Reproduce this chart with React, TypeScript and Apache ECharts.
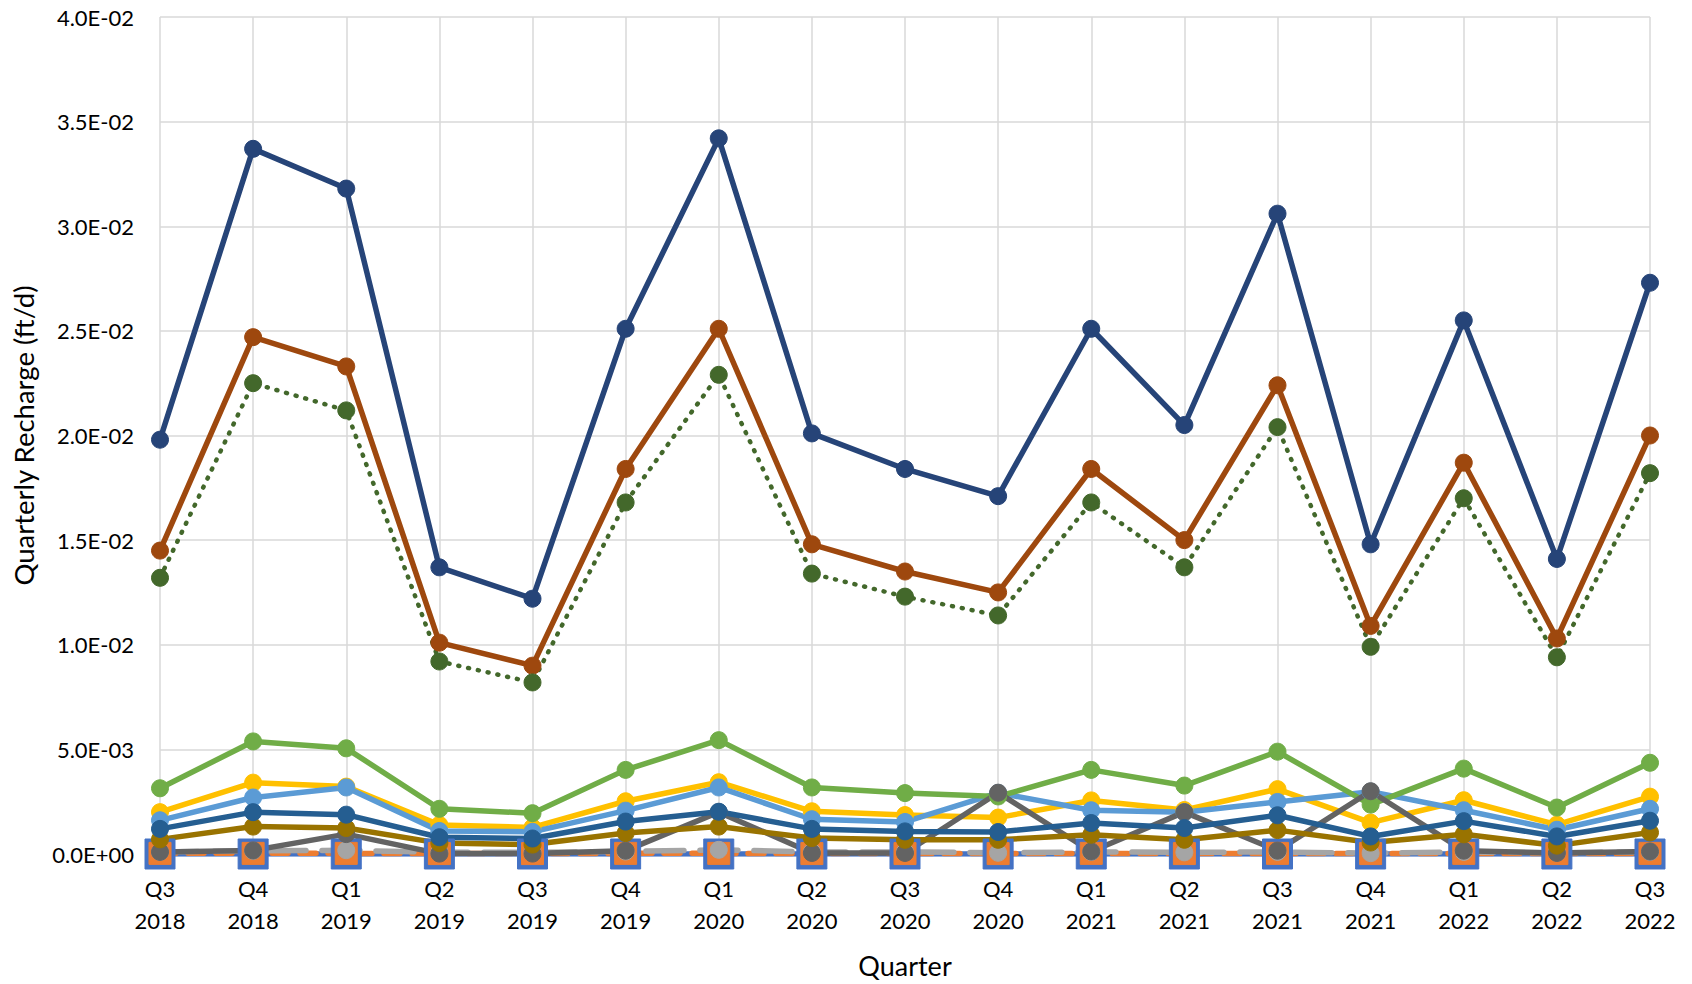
import React, { useEffect, useRef } from "react";
import * as echarts from "echarts";

const categories = [
  "Q3\n2018", "Q4\n2018", "Q1\n2019", "Q2\n2019", "Q3\n2019", "Q4\n2019",
  "Q1\n2020", "Q2\n2020", "Q3\n2020", "Q4\n2020", "Q1\n2021", "Q2\n2021",
  "Q3\n2021", "Q4\n2021", "Q1\n2022", "Q2\n2022", "Q3\n2022",
];

const blueSquares = [0, 0, 0, 0, 0, 0, 0, 0, 0, 0, 0, 0, 0, 0, 0, 0, 0];
const orangeSquares = [0.00003, 0.00003, 0.00003, 0.00002, 0.00002, 0.00003, 0.00003, 0.00002, 0.00002, 0.00002, 0.00003, 0.00002, 0.00003, 0.00002, 0.00003, 0.00002, 0.00003];
const lightGray = [0.0001, 0.00015, 0.00018, 0.00008, 0.00008, 0.00012, 0.0002, 0.0001, 0.0001, 0.00006, 0.0001, 0.00008, 0.0001, 0.00004, 0.0001, 0.00006, 0.0001];
const gold = [0.002, 0.00341, 0.00322, 0.00139, 0.00127, 0.00252, 0.00343, 0.00204, 0.00186, 0.00174, 0.00256, 0.0021, 0.0031, 0.0015, 0.00257, 0.0014, 0.00274];
const lightBlue = [0.00161, 0.0027, 0.00318, 0.0011, 0.00106, 0.00207, 0.00318, 0.00166, 0.00153, 0.00292, 0.00209, 0.002, 0.00249, 0.00298, 0.00209, 0.00116, 0.00216];
const green = [0.00314, 0.00538, 0.00505, 0.00216, 0.00195, 0.00402, 0.00544, 0.00318, 0.00291, 0.00275, 0.00402, 0.00327, 0.00489, 0.00236, 0.00408, 0.00222, 0.00436];
const navy = [0.0198, 0.0337, 0.0318, 0.0137, 0.0122, 0.0251, 0.0342, 0.0201, 0.0184, 0.0171, 0.0251, 0.0205, 0.0306, 0.0148, 0.0255, 0.0141, 0.0273];
const darkOrange = [0.0145, 0.0247, 0.0233, 0.0101, 0.009, 0.0184, 0.0251, 0.0148, 0.0135, 0.0125, 0.0184, 0.015, 0.0224, 0.0109, 0.0187, 0.0103, 0.02];
const darkGray = [0.0001, 0.00017, 0.00095, 0.00002, 0.00002, 0.00016, 0.002, 0.00005, 0.00005, 0.00293, 0.00012, 0.002, 0.00016, 0.003, 0.00016, 0.00005, 0.00012];
const darkGold = [0.0007, 0.00131, 0.00124, 0.00052, 0.00045, 0.001, 0.00131, 0.00076, 0.00068, 0.00068, 0.00092, 0.00068, 0.00114, 0.00055, 0.00094, 0.0004, 0.00103];
const darkBlue = [0.0012, 0.002, 0.00188, 0.0008, 0.00074, 0.00155, 0.00202, 0.0012, 0.00108, 0.00105, 0.00148, 0.00124, 0.00185, 0.00084, 0.00157, 0.00084, 0.00159];
const darkGreenDotted = [0.0132, 0.0225, 0.0212, 0.0092, 0.0082, 0.0168, 0.0229, 0.0134, 0.0123, 0.0114, 0.0168, 0.0137, 0.0204, 0.0099, 0.017, 0.0094, 0.0182];

const FONT = "Lato";

function fmtExp(v: number): string {
  if (v === 0) return "0.0E+00";
  const s = v.toExponential(1);
  const [m, e] = s.split("e");
  const n = parseInt(e, 10);
  const sign = n < 0 ? "-" : "+";
  const abs = Math.abs(n);
  return m + "E" + sign + (abs < 10 ? "0" + abs : String(abs));
}

export default function App() {
  const ref = useRef<HTMLDivElement>(null);
  useEffect(() => {
    if (!ref.current) return;
    const chart = echarts.init(ref.current, undefined, { renderer: "svg" });
    const lw = 5.5;
    const circ = (name: string, color: string, data: number[], extra: any = {}) => ({
      name,
      type: "line",
      data,
      symbol: "circle",
      symbolSize: 17,
      showSymbol: true,
      itemStyle: { color, borderColor: color },
      lineStyle: { color, width: lw, ...(extra.lineStyle || {}) },
      z: 2,
    });
    chart.setOption({
      animation: false,
      backgroundColor: "#ffffff",
      grid: { left: 160, right: 42, top: 17, bottom: 119, containLabel: false },
      xAxis: {
        type: "category",
        data: categories,
        boundaryGap: false,
        name: "Quarter",
        nameLocation: "middle",
        nameGap: 98,
        nameTextStyle: { fontFamily: FONT, fontSize: 27, color: "#000" },
        axisLine: { show: false },
        axisTick: { show: false },
        axisLabel: {
          fontFamily: FONT,
          fontSize: 22,
          color: "#000",
          lineHeight: 32,
          margin: 18,
          interval: 0,
        },
        splitLine: { show: true, lineStyle: { color: "#d9d9d9", width: 1.5 } },
      },
      yAxis: {
        type: "value",
        min: 0,
        max: 0.04,
        interval: 0.005,
        name: "Quarterly Recharge (ft/d)",
        nameLocation: "middle",
        nameGap: 123,
        nameTextStyle: { fontFamily: FONT, fontSize: 27.5, color: "#000" },
        axisLine: { show: false },
        axisTick: { show: false },
        axisLabel: {
          fontFamily: FONT,
          fontSize: 22,
          color: "#000",
          margin: 26,
          formatter: (v: number) => fmtExp(v),
        },
        splitLine: { show: true, lineStyle: { color: "#d9d9d9", width: 1.5 } },
      },
      series: [
        {
          name: "S1",
          type: "line",
          data: blueSquares,
          symbol: "rect",
          symbolSize: 30,
          itemStyle: { color: "#4472C4", borderColor: "#4472C4" },
          lineStyle: { color: "#4472C4", width: 5.5 },
          z: 2,
        },
        {
          name: "S2",
          type: "line",
          data: orangeSquares,
          symbol: "rect",
          symbolSize: 22,
          itemStyle: { color: "#ED7D31", borderColor: "#ED7D31" },
          lineStyle: { color: "#ED7D31", width: 5.5, type: [16, 12], cap: "round" },
          z: 2,
        },
        {
          name: "S3",
          type: "line",
          data: lightGray,
          symbol: "circle",
          symbolSize: 17,
          itemStyle: { color: "#A5A5A5", borderColor: "#A5A5A5" },
          lineStyle: { color: "#A5A5A5", width: 5.5, type: [38, 16], cap: "round" },
          z: 2,
        },
        circ("S4", "#FFC000", gold),
        circ("S5", "#5B9BD5", lightBlue),
        circ("S6", "#70AD47", green),
        circ("S7", "#264478", navy),
        circ("S8", "#9E480E", darkOrange),
        circ("S9", "#636363", darkGray),
        circ("S10", "#997300", darkGold),
        circ("S11", "#255E91", darkBlue),
        circ("S12", "#43682B", darkGreenDotted, { lineStyle: { type: [1, 9], cap: "round", width: 4.5 } }),
      ],
    });
    return () => chart.dispose();
  }, []);
  return (
    <div
      ref={ref}
      style={{ position: "fixed", left: 0, top: 0, width: 1692, height: 984, background: "#fff" }}
    />
  );
}
